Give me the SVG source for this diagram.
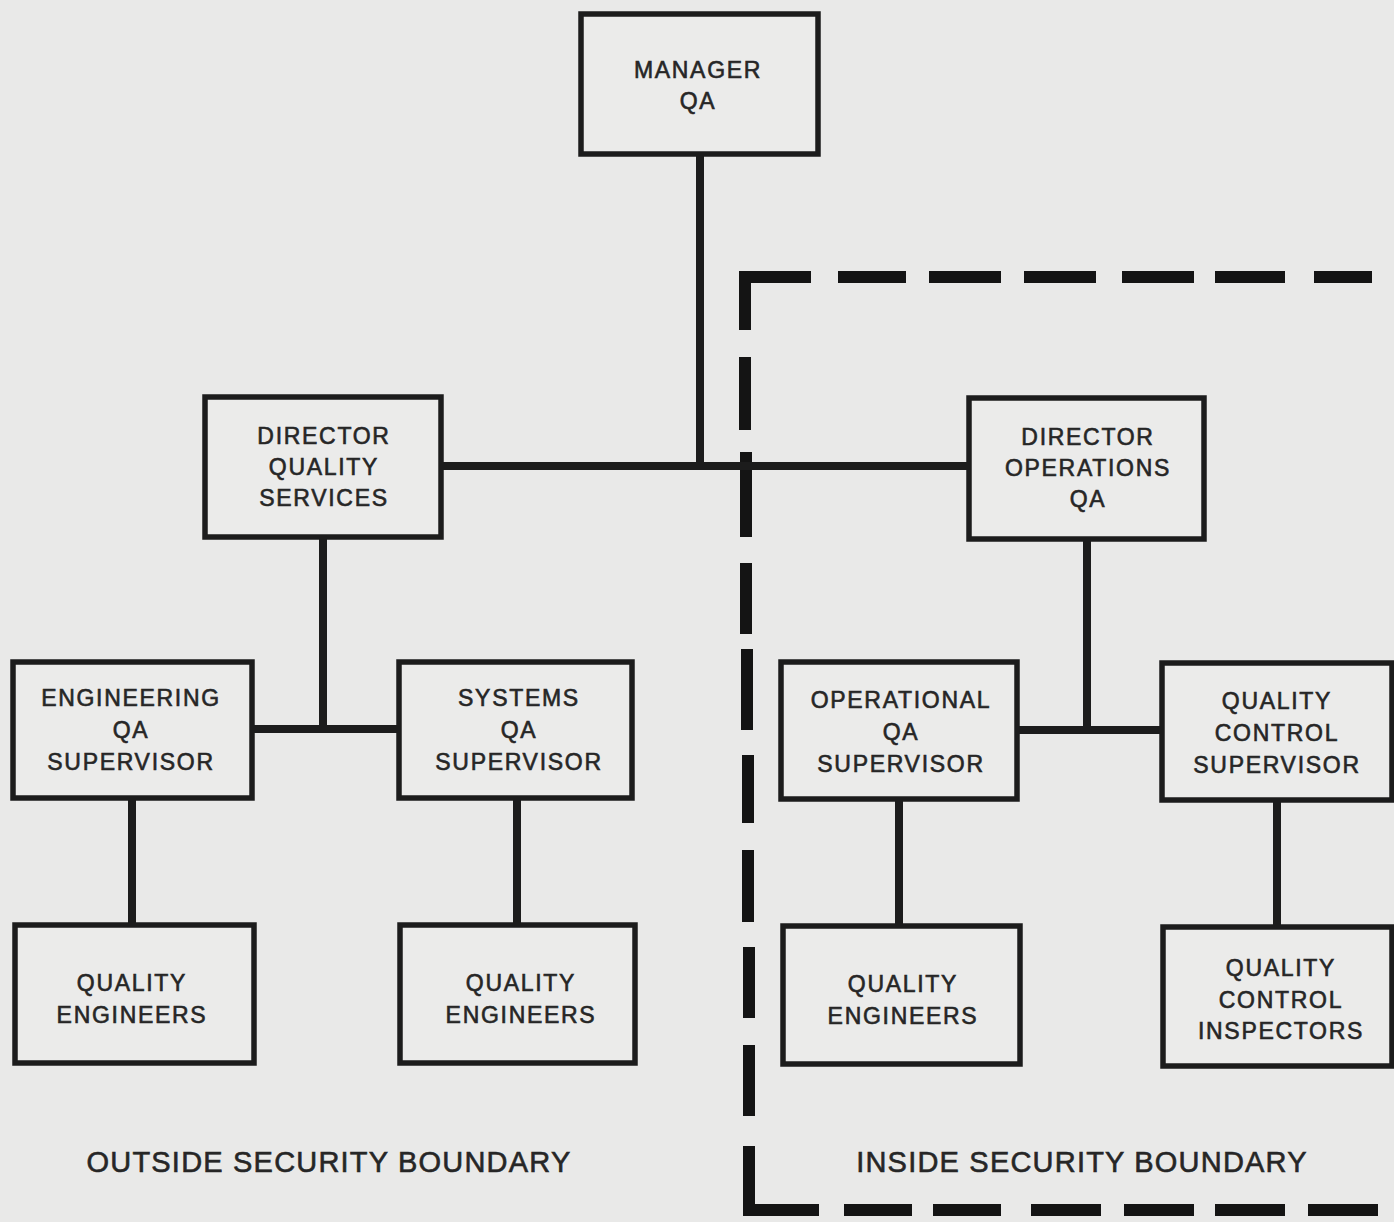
<svg xmlns="http://www.w3.org/2000/svg" width="1394" height="1222" viewBox="0 0 1394 1222">
<style>
.box{fill:#ebebea;stroke:#1c1c1c;stroke-width:5.5}
.t{font-family:"Liberation Sans",Arial,sans-serif;font-size:23px;letter-spacing:1.7px;fill:#262626;stroke:#262626;stroke-width:0.6;text-anchor:middle}
.lbl{font-family:"Liberation Sans",Arial,sans-serif;font-size:29px;letter-spacing:1.2px;fill:#262626;stroke:#262626;stroke-width:0.6;text-anchor:middle}
.c{stroke:#1c1c1c;stroke-width:8;fill:none}
.d{stroke:#141414;stroke-width:12;fill:none}
</style>
<rect width="1394" height="1222" fill="#e9e9e8"/>
<g id="boundary">
<path class="d" d="M811 277 H745 V330"/>
<path class="d" d="M838 277 H906 M929 277 H1001 M1024 277 H1096 M1122 277 H1194 M1215 277 H1285 M1314 277 H1372"/>
<path class="d" d="M745 357 V430 M746 452 V537 M746 563 V634 M747 649 V730 M748 755 V823 M748 850 V922 M749 947 V1018 M749 1045 V1116"/>
<path class="d" d="M749 1146 V1210 H819"/>
<path class="d" d="M844 1210 H912 M933 1210 H1001 M1031 1210 H1101 M1124 1210 H1194 M1215 1210 H1285 M1308 1210 H1378"/>
</g>
<g id="connectors">
<path class="c" d="M700 154 V466"/>
<path class="c" d="M441 466 H969"/>
<path class="c" d="M323 537 V729"/>
<path class="c" d="M252 729 H399"/>
<path class="c" d="M1087 539 V730"/>
<path class="c" d="M1017 730 H1162"/>
<path class="c" d="M132 798 V925"/>
<path class="c" d="M517 798 V925"/>
<path class="c" d="M899 799 V926"/>
<path class="c" d="M1277 800 V927"/>
</g>
<g id="manager-qa">
<rect class="box" x="581" y="14" width="237" height="140"/>
<text class="t" x="698" y="78">MANAGER</text>
<text class="t" x="698" y="109">QA</text>
</g>
<g id="director-quality-services">
<rect class="box" x="205" y="397" width="236" height="140"/>
<text class="t" x="324" y="444">DIRECTOR</text>
<text class="t" x="324" y="475">QUALITY</text>
<text class="t" x="324" y="506">SERVICES</text>
</g>
<g id="director-operations-qa">
<rect class="box" x="969" y="398" width="235" height="141"/>
<text class="t" x="1088" y="445">DIRECTOR</text>
<text class="t" x="1088" y="476">OPERATIONS</text>
<text class="t" x="1088" y="507">QA</text>
</g>
<g id="engineering-qa-supervisor">
<rect class="box" x="13" y="662" width="239" height="136"/>
<text class="t" x="131" y="706">ENGINEERING</text>
<text class="t" x="131" y="738">QA</text>
<text class="t" x="131" y="770">SUPERVISOR</text>
</g>
<g id="systems-qa-supervisor">
<rect class="box" x="399" y="662" width="233" height="136"/>
<text class="t" x="519" y="706">SYSTEMS</text>
<text class="t" x="519" y="738">QA</text>
<text class="t" x="519" y="770">SUPERVISOR</text>
</g>
<g id="operational-qa-supervisor">
<rect class="box" x="781" y="662" width="236" height="137"/>
<text class="t" x="901" y="708">OPERATIONAL</text>
<text class="t" x="901" y="740">QA</text>
<text class="t" x="901" y="772">SUPERVISOR</text>
</g>
<g id="quality-control-supervisor">
<rect class="box" x="1162" y="663" width="230" height="137"/>
<text class="t" x="1277" y="709">QUALITY</text>
<text class="t" x="1277" y="741">CONTROL</text>
<text class="t" x="1277" y="773">SUPERVISOR</text>
</g>
<g id="quality-engineers-1">
<rect class="box" x="15" y="925" width="239" height="138"/>
<text class="t" x="132" y="991">QUALITY</text>
<text class="t" x="132" y="1023">ENGINEERS</text>
</g>
<g id="quality-engineers-2">
<rect class="box" x="400" y="925" width="235" height="138"/>
<text class="t" x="521" y="991">QUALITY</text>
<text class="t" x="521" y="1023">ENGINEERS</text>
</g>
<g id="quality-engineers-3">
<rect class="box" x="783" y="926" width="237" height="138"/>
<text class="t" x="903" y="992">QUALITY</text>
<text class="t" x="903" y="1024">ENGINEERS</text>
</g>
<g id="quality-control-inspectors">
<rect class="box" x="1163" y="927" width="229" height="139"/>
<text class="t" x="1281" y="976">QUALITY</text>
<text class="t" x="1281" y="1008">CONTROL</text>
<text class="t" x="1281" y="1039">INSPECTORS</text>
</g>
<text class="lbl" x="329" y="1172">OUTSIDE SECURITY BOUNDARY</text>
<text class="lbl" x="1082" y="1172">INSIDE SECURITY BOUNDARY</text>
</svg>
